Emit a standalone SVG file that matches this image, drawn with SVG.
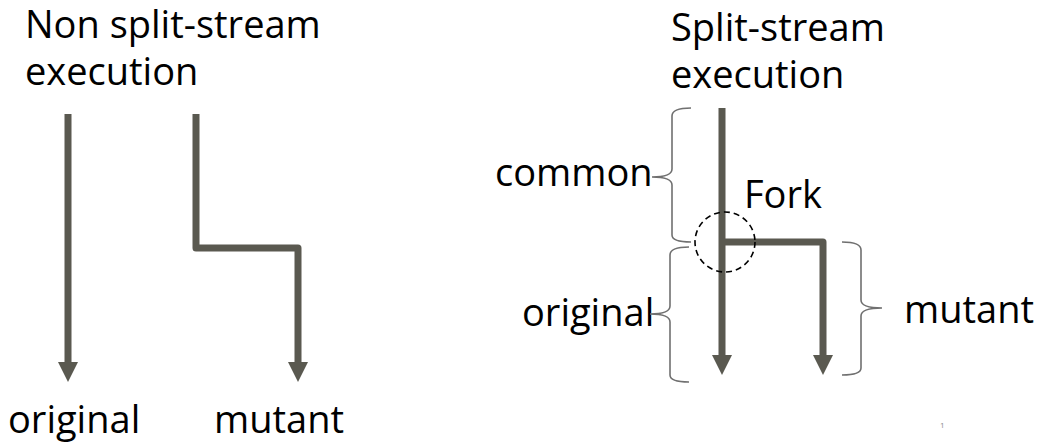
<svg xmlns="http://www.w3.org/2000/svg" width="1038" height="444" viewBox="0 0 1038 444">
  <style>
    .lbl { font-family: "Open Sans", "Noto Sans", "Liberation Sans", sans-serif; font-size: 38px; fill: #000; }
    .flow { fill: none; stroke: #5a5950; stroke-width: 7; stroke-linejoin: round; marker-end: url(#head); }
    .brace { fill: none; stroke: #707070; stroke-width: 1.6; }
    .fork { fill: none; stroke: #000; stroke-width: 1.6; stroke-dasharray: 6 4; }
    .pgno { font-family: "Open Sans", "Liberation Sans", sans-serif; font-size: 8px; fill: #8c8c8c; }
  </style>
  <defs>
    <marker id="head" viewBox="0 0 20 20" markerWidth="20" markerHeight="20" markerUnits="userSpaceOnUse" refX="0" refY="10" orient="auto">
      <path d="M0,0 L20,10 L0,20 z" fill="#5a5950"/>
    </marker>
  </defs>
  <rect width="1038" height="444" fill="#fff"/>

  <!-- left panel: separate runs -->
  <g id="title-left">
    <text class="lbl" x="25" y="38">Non split-stream<tspan x="25" y="85">execution</tspan></text>
  </g>
  <g id="label-original-left"><text class="lbl" x="8" y="433">original</text></g>
  <g id="label-mutant-left"><text class="lbl" x="214" y="433">mutant</text></g>

  <!-- right panel: split-stream -->
  <g id="title-right">
    <text class="lbl" x="671" y="41">Split-stream<tspan x="671" y="88">execution</tspan></text>
  </g>
  <g id="label-common"><text class="lbl" x="495" y="186">common</text></g>
  <g id="label-fork"><text class="lbl" x="744" y="208">Fork</text></g>
  <g id="label-original-right"><text class="lbl" x="522" y="326">original</text></g>
  <g id="label-mutant-right"><text class="lbl" x="904" y="323">mutant</text></g>

  <g id="connectors">
    <path class="flow" d="M68,114 V362"/>
    <path class="flow" d="M196,114 V248 H298 V362"/>
    <path class="flow" d="M722,108 V355"/>
    <path class="flow" d="M722,242 H823 V355"/>
  </g>

  <g id="braces">
    <path class="brace" d="M691,108 C679,108 672,110 672,116 L672,169 C672,174 666,177 652,177 C666,177 672,180 672,185 L672,235 C672,240 679,242 691,242"/>
    <path class="brace" d="M689,247 C677,247 670,249 670,255 L670,306 C670,311 664,314 650,314 C664,314 670,317 670,322 L670,375 C670,380 677,382 689,382"/>
    <path class="brace" d="M842,242 C854,242 861,244 861,250 L861,300 C861,305 867,308 882,308 C867,308 861,311 861,316 L861,368 C861,373 854,375 842,375"/>
  </g>

  <g id="fork-point">
    <circle class="fork" cx="725" cy="242" r="30"/>
  </g>

  <text class="pgno" x="940" y="428">1</text>
</svg>
